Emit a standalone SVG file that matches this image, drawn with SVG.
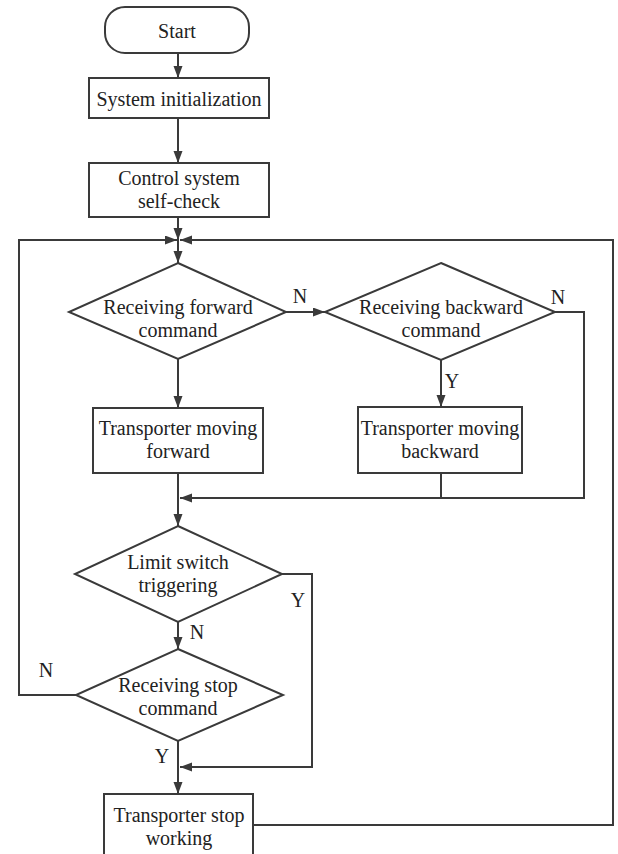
<svg xmlns="http://www.w3.org/2000/svg" width="618" height="854" viewBox="0 0 618 854">
<defs>
<marker id="arr" markerUnits="userSpaceOnUse" markerWidth="12" markerHeight="10" refX="12" refY="4.5" orient="auto">
<path d="M0,0 L12,4.5 L0,9 z" fill="#3a3a3a"/>
</marker>
<style>
.s{fill:#fff;stroke:#3a3a3a;stroke-width:2}
.c{fill:none;stroke:#3a3a3a;stroke-width:2}
.a{marker-end:url(#arr)}
text{font-family:"Liberation Serif","Times New Roman",serif;font-size:20px;fill:#222;text-anchor:middle}
</style>
</defs>
<rect width="618" height="854" fill="#fff"/>
<g id="connectors">
<path class="c a" d="M178,53 V78"/>
<path class="c a" d="M178,118 V163"/>
<path class="c a" d="M178,217 V240"/>
<path class="c a" d="M178,240 V263"/>
<path class="c a" d="M76,695 H19 V240 H177"/>
<path class="c a" d="M253,825 H613 V240 H180"/>
<path class="c a" d="M286,312 H325"/>
<path class="c a" d="M555,312 H584 V498 H180"/>
<path class="c a" d="M441,360 V407"/>
<path class="c" d="M441,473 V498"/>
<path class="c a" d="M178,359 V408"/>
<path class="c a" d="M178,473 V526"/>
<path class="c a" d="M178,622 V649"/>
<path class="c a" d="M282,574 H312 V767 H180"/>
<path class="c a" d="M178,741 V794"/>
<text x="300" y="303">N</text>
<text x="558" y="304">N</text>
<text x="452" y="388">Y</text>
<text x="298" y="607">Y</text>
<text x="197" y="639">N</text>
<text x="46" y="677">N</text>
<text x="162" y="763">Y</text>
</g>
<g id="start">
<rect class="s" x="105" y="7" width="144" height="46" rx="20"/>
<text x="177" y="38">Start</text>
</g>
<g id="init">
<rect class="s" x="89" y="78" width="180" height="40"/>
<text x="179" y="106">System initialization</text>
</g>
<g id="selfcheck">
<rect class="s" x="89" y="163" width="180" height="54"/>
<text x="179" y="185">Control system</text>
<text x="179" y="208">self-check</text>
</g>
<g id="forwardCmd">
<polygon class="s" points="178,263 286,312 178,359 69,312"/>
<text x="178" y="314">Receiving forward</text>
<text x="178" y="337">command</text>
</g>
<g id="backwardCmd">
<polygon class="s" points="441,263 555,312 441,360 325,312"/>
<text x="441" y="314">Receiving backward</text>
<text x="441" y="337">command</text>
</g>
<g id="moveForward">
<rect class="s" x="93" y="408" width="170" height="65"/>
<text x="178" y="435">Transporter moving</text>
<text x="178" y="458">forward</text>
</g>
<g id="moveBackward">
<rect class="s" x="358" y="407" width="164" height="66"/>
<text x="440" y="435">Transporter moving</text>
<text x="440" y="458">backward</text>
</g>
<g id="limitSwitch">
<polygon class="s" points="178,526 282,574 178,622 75,574"/>
<text x="178" y="569">Limit switch</text>
<text x="178" y="592">triggering</text>
</g>
<g id="stopCmd">
<polygon class="s" points="178,649 283,695 178,741 76,695"/>
<text x="178" y="692">Receiving stop</text>
<text x="178" y="715">command</text>
</g>
<g id="stopWork">
<rect class="s" x="104" y="794" width="149" height="80"/>
<text x="179" y="822">Transporter stop</text>
<text x="179" y="845">working</text>
</g>
</svg>
